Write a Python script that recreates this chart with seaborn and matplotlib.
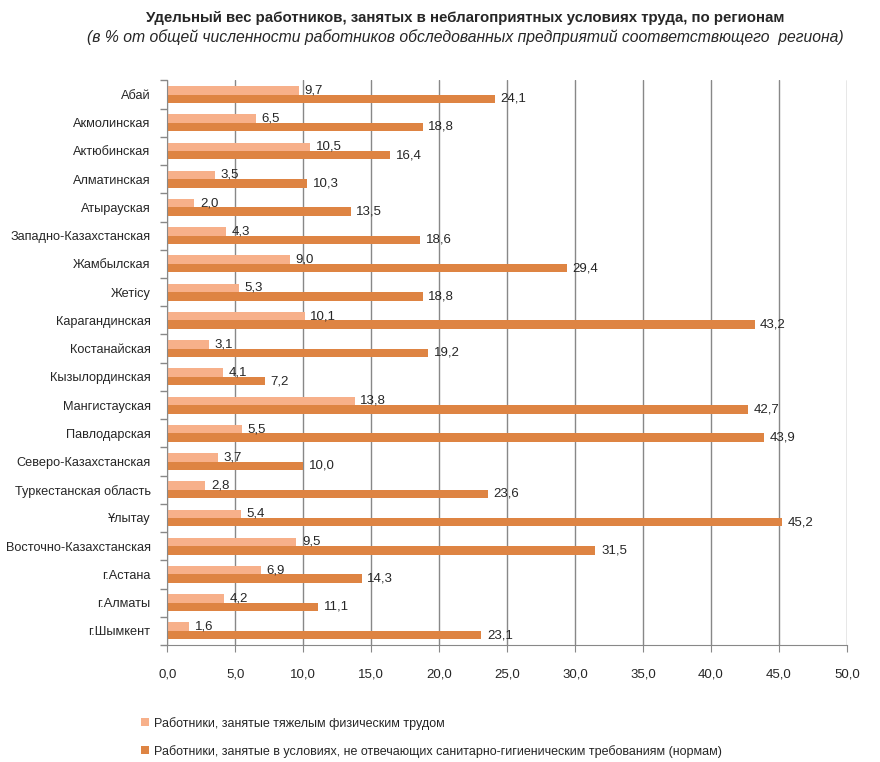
import numpy as np
import pandas as pd
import matplotlib
matplotlib.use("Agg")
import matplotlib.pyplot as plt
import seaborn as sns

regions = ["Абай", "Акмолинская", "Актюбинская", "Алматинская", "Атырауская",
           "Западно-Казахстанская", "Жамбылская", "Жетісу", "Карагандинская",
           "Костанайская", "Кызылординская", "Мангистауская", "Павлодарская",
           "Северо-Казахстанская", "Туркестанская область", "Ұлытау",
           "Восточно-Казахстанская", "г.Астана", "г.Алматы", "г.Шымкент"]
heavy = [9.7, 6.5, 10.5, 3.5, 2.0, 4.3, 9.0, 5.3, 10.1, 3.1,
         4.1, 13.8, 5.5, 3.7, 2.8, 5.4, 9.5, 6.9, 4.2, 1.6]
unsanitary = [24.1, 18.8, 16.4, 10.3, 13.5, 18.6, 29.4, 18.8, 43.2, 19.2,
              7.2, 42.7, 43.9, 10.0, 23.6, 45.2, 31.5, 14.3, 11.1, 23.1]
series = ["Работники, занятые тяжелым физическим трудом",
          "Работники, занятые в условиях, не отвечающих санитарно-гигиеническим требованиям (нормам)"]
colors = ["#F7B08A", "#DE8443"]

df = pd.DataFrame({"region": regions * 2,
                   "value": heavy + unsanitary,
                   "series": [series[0]] * len(regions) + [series[1]] * len(regions)})

sns.set_style("white")
plt.rcParams['font.family'] = ['Liberation Sans', 'DejaVu Sans']

fig = plt.figure(figsize=(8.8, 7.62), dpi=100)
ax = fig.add_axes([0.19, 0.1535, 0.7725, 0.741])

sns.barplot(data=df, y="region", x="value", hue="series", palette=colors,
            orient="h", width=0.6, saturation=1, linewidth=0, ax=ax, legend=True)

for cont in ax.containers:
    ax.bar_label(cont, labels=[f"{v:.1f}".replace(".", ",") for v in cont.datavalues],
                 padding=4, fontsize=9.5)

ax.set_xlim(0, 50)
ax.set_xticks(np.arange(0, 51, 5))
ax.set_xticklabels([f"{v:.1f}".replace(".", ",") for v in np.arange(0, 51, 5)], fontsize=9.5)
ax.set_ylim(len(regions) - 0.5, -0.5)
ax.set_xlabel("")
ax.set_ylabel("")
ax.tick_params(axis="y", which="major", left=False, length=0, labelsize=9.2, pad=12)
ax.set_yticks(np.arange(-0.5, len(regions), 1), minor=True)
ax.tick_params(axis="y", which="minor", left=True, length=5, width=1,
               color="#888888", direction="out")
ax.tick_params(axis="x", length=5, color="#888888", direction="out", pad=12, bottom=True)
ax.grid(axis="x", color="#888888", linewidth=1)
ax.set_axisbelow(True)
for s in ["top", "right"]:
    ax.spines[s].set_visible(False)
for s in ["left", "bottom"]:
    ax.spines[s].set_color("#888888")

h, l = ax.get_legend_handles_labels()
ax.legend(h, l, loc="upper left", bbox_to_anchor=(0.148, 0.074),
          bbox_transform=fig.transFigure, frameon=False, fontsize=9,
          handlelength=0.6, handleheight=0.6, handletextpad=0.4, labelspacing=1.2)

fig.text(0.529, 0.976, "Удельный вес работников, занятых в неблагоприятных условиях труда, по регионам",
         ha="center", va="center", fontsize=10.8, fontweight="bold")
fig.text(0.529, 0.951, "(в % от общей численности работников обследованных предприятий соответствющего  региона)",
         ha="center", va="center", fontsize=11.3, style="italic")

fig.savefig("out.png", dpi=100)
